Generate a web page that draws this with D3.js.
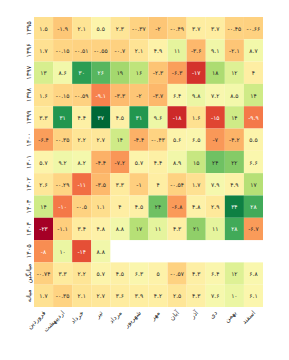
<!DOCTYPE html>
<html>
<head>
<meta charset="utf-8">
<script src="https://cdn.jsdelivr.net/npm/d3@7"></script>
<style>
  body { margin: 0; background: #fff; }
  svg text { font-family: "DejaVu Sans", sans-serif; }
</style>
</head>
<body>
<div id="chart"></div>
<script>
// ماه‌ها (ستون‌ها) و سطرها
const months = ["فروردین", "اردیبهشت", "خرداد", "تیر", "مرداد", "شهریور",
  "مهر", "آبان", "آذر", "دی", "بهمن", "اسفند"];
const rowLabels = ["۱۳۹۵", "۱۳۹۶", "۱۳۹۷", "۱۳۹۸", "۱۳۹۹", "۱۴۰۰",
  "۱۴۰۱", "۱۴۰۲", "۱۴۰۳", "۱۴۰۴", "۱۴۰۵", "میانگین", "میانه"];

// values per row, null = no data
const y1395 = [1.5, -1.9, 2.1, 5.5, 2.3, -0.37, -2, -0.49, 3.7, 3.7, -0.45, -0.66];
const y1396 = [1.7, -0.15, -0.51, -0.55, -0.7, 2.1, 4.9, 11, -3.6, 9.1, -2.1, 8.7];
const y1397 = [13, 8.6, 30, 26, 19, 16, -2.3, -6.3, -17, 18, 12, 4];
const y1398 = [1.6, -0.15, -0.59, -9.1, -3.3, -2, -3.7, 6.4, 9.8, 7.2, 8.5, 14];
const y1399 = [3.3, 31, 4.4, 37, 4.5, 31, 9.6, -18, 1.6, -15, 14, -9.9];
const y1400 = [-6.4, -0.35, 2.2, 2.7, 14, -4.4, -0.43, 5.6, 6.5, -7, -4.2, 5.5];
const y1401 = [5.7, 9.2, 8.2, -4.4, -7.2, 5.7, 4.4, 8.9, 15, 24, 22, 6.6];
const y1402 = [2.6, -0.29, -11, -3.5, 3.3, -1, 4, -0.54, 1.7, 7.9, 4.9, 17];
const y1403 = [14, -10, -0.5, 1.1, 4, 4.5, 24, -6.8, 4.8, 2.9, 34, 28];
const y1404 = [-23, -1.1, 3.4, 4.8, 8.8, 17, 11, 4.3, 21, 11, 28, -6.7];
const y1405 = [-8, 10, -14, 8.8, null, null, null, null, null, null, null, null];
const meanRow = [-0.74, 3.3, 2.2, 5.7, 4.5, 6.3, 5, -0.57, 4.3, 6.4, 12, 6.8];
const medianRow = [1.7, -0.35, 2.1, 2.7, 3.6, 3.9, 4.2, 2.5, 4.3, 7.6, 10, 6.1];

const rows = [y1395, y1396, y1397, y1398, y1399, y1400, y1401, y1402,
  y1403, y1404, y1405, meanRow, medianRow];

const W = 289, H = 360;
const mLeft = 34, mRight = 263, mTop = 17, mBottom = 307;

const cells = [];
rows.forEach((r, i) => r.forEach((v, j) => {
  if (v !== null) cells.push({ row: rowLabels[i], month: months[j], v });
}));

const svg = d3.select("#chart").append("svg")
  .attr("width", W).attr("height", H);

const x = d3.scaleBand().domain(months).range([mLeft, mRight]);
const y = d3.scaleBand().domain(rowLabels).range([mTop, mBottom]);

const color = d3.scaleSequential(d3.interpolateRdYlGn)
  .domain(d3.extent(cells, d => d.v));

// seaborn-like text colour from cell luminance
function lum(c) {
  const rgb = d3.rgb(c);
  const f = u => { u /= 255; return u <= 0.03928 ? u / 12.92 : Math.pow((u + 0.055) / 1.055, 2.4); };
  return 0.2126 * f(rgb.r) + 0.7152 * f(rgb.g) + 0.0722 * f(rgb.b);
}

const fa = s => s.replace(/\d/g, d => "۰۱۲۳۴۵۶۷۸۹"[d]);
const fmt = v => fa(String(Number(v.toPrecision(2))));

svg.append("g").selectAll("rect")
  .data(cells).enter().append("rect")
  .attr("x", d => x(d.month))
  .attr("y", d => y(d.row))
  .attr("width", x.bandwidth())
  .attr("height", y.bandwidth())
  .attr("fill", d => color(d.v));

svg.append("g").selectAll("text")
  .data(cells).enter().append("text")
  .attr("x", d => x(d.month) + x.bandwidth() / 2)
  .attr("y", d => y(d.row) + y.bandwidth() / 2)
  .attr("text-anchor", "middle")
  .attr("dominant-baseline", "central")
  .attr("font-size", "6px")
  .attr("fill", d => lum(color(d.v)) < 0.408 ? "#fff" : "#262626")
  .text(d => fmt(d.v));

// axes
const xAxisG = svg.append("g")
  .attr("transform", `translate(0,${mBottom})`)
  .call(d3.axisBottom(x).tickSize(0).tickPadding(4));
xAxisG.select(".domain").remove();
xAxisG.selectAll("text")
  .attr("font-size", "6.5px")
  .attr("fill", "#262626")
  .attr("text-anchor", "end")
  .attr("y", 4)
  .attr("dy", "0.5em")
  .attr("transform", "rotate(-45,0,4)");

const yAxisG = svg.append("g")
  .attr("transform", `translate(${mLeft},0)`)
  .call(d3.axisLeft(y).tickSize(0).tickPadding(4));
yAxisG.select(".domain").remove();
yAxisG.selectAll("text")
  .attr("font-size", "6.5px")
  .attr("fill", "#262626")
  .attr("text-anchor", "middle")
  .attr("x", 0).attr("dy", 0)
  .attr("dominant-baseline", "central")
  .attr("transform", "translate(-5,0) rotate(-90)");
</script>
</body>
</html>
